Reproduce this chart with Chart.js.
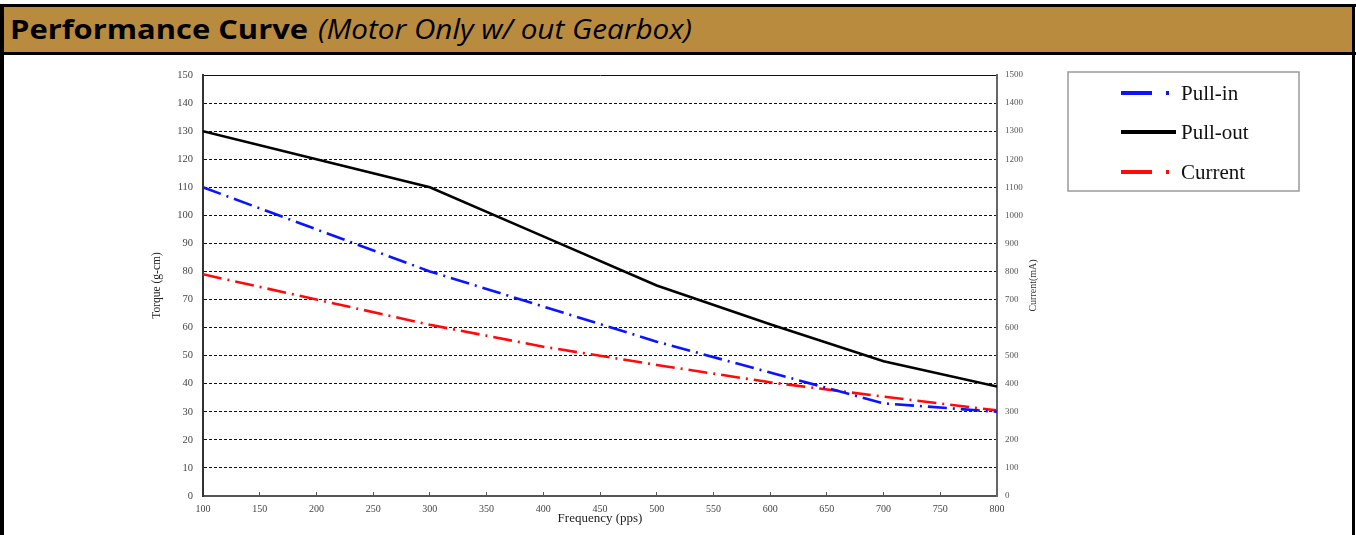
<!DOCTYPE html>
<html><head><meta charset="utf-8">
<script src="https://cdn.jsdelivr.net/npm/chart.js@4.4.0/dist/chart.umd.min.js"></script>
<style>
html,body{margin:0;padding:0;background:#fff;}
#wrap{position:relative;width:1356px;height:535px;overflow:hidden;background:#fff;}
#cv{position:absolute;left:0;top:0;width:1356px;height:535px;z-index:0;}
.blk{position:absolute;background:#000;z-index:2;}
#hdrIn{position:absolute;left:4px;top:7px;width:1348px;height:45px;background:#B98B3E;z-index:3;}
.tt{position:absolute;top:14.5px;font-family:"Open Sans",sans-serif;font-size:27.5px;line-height:27px;color:#000;white-space:nowrap;transform-origin:0 0;z-index:4;}
#t1{left:10px;font-weight:700;}
#t2{left:318px;font-style:italic;font-weight:400;}
</style></head>
<body>
<div id="wrap">
  <canvas id="cv" width="1356" height="535"></canvas>
  <div class="blk" style="left:0;top:4px;width:1356px;height:3px;"></div>
  <div class="blk" style="left:0;top:52px;width:1356px;height:3px;"></div>
  <div class="blk" style="left:0;top:4px;width:4px;height:531px;"></div>
  <div class="blk" style="left:1352px;top:4px;width:3px;height:531px;"></div>
  <div id="hdrIn"></div>
  <span class="tt" id="t1">Performance Curve</span>
  <span class="tt" id="t2">(Motor Only w/ out Gearbox)</span>
</div>
<script>
// ---- data ----
const freq = [100, 200, 300, 400, 500, 600, 700, 800];
const pullIn = [110, 95, 80, 67.5, 55, 44, 33, 30];
const pullOut = [130, 120, 110, 92.5, 75, 61.2, 48, 39];
const current = [790, 700, 610, 532, 467, 405, 354, 305];
const seriesNames = ['Pull-in', 'Pull-out', 'Current'];
const xTitle = 'Frequency (pps)';
const yTitle = 'Torque (g-cm)';
const y1Title = 'Current(mA)';
const freqRange = [100, 800, 50];
const torqueRange = [0, 150, 10];
const currentRange = [0, 1500, 100];

// fit header text widths
function fit(id, w){ const e=document.getElementById(id); const r=e.getBoundingClientRect().width; e.style.transform='scaleX('+(w/r)+')'; }
fit('t1', 298); fit('t2', 374);

const pts = arr => freq.map((f, i) => ({x: f, y: arr[i]}));
const serif = '"Liberation Serif", "Times New Roman", serif';
const plain = {useGrouping: false};

const legendPlugin = {
  id: 'boxLegend',
  afterDraw(chart) {
    const ctx = chart.ctx;
    ctx.save();
    ctx.strokeStyle = '#9a9a9a'; ctx.lineWidth = 1.5;
    ctx.strokeRect(1068, 72, 231, 119);
    const rows = [93, 132, 172];
    chart.data.datasets.forEach((ds, i) => {
      const y = rows[i];
      ctx.beginPath(); ctx.lineWidth = 4; ctx.strokeStyle = ds.borderColor;
      ctx.setLineDash(ds.legendDash || []);
      ctx.moveTo(1121, y); ctx.lineTo(1176, y); ctx.stroke();
      ctx.setLineDash([]);
      ctx.fillStyle = '#111'; ctx.font = '21px ' + serif; ctx.textBaseline = 'middle'; ctx.textAlign = 'left';
      ctx.fillText(ds.label, 1181, y + 1);
    });
    const ca = chart.chartArea;
    ctx.translate(1033, (ca.top + ca.bottom) / 2);
    ctx.rotate(-Math.PI / 2);
    ctx.font = '10px ' + serif; ctx.textAlign = 'center'; ctx.textBaseline = 'middle'; ctx.fillStyle = '#333';
    ctx.fillText(y1Title, 0, 0);
    ctx.restore();
  }
};

new Chart(document.getElementById('cv'), {
  type: 'line',
  data: {
    datasets: [
      {label: seriesNames[0], data: pts(pullIn), yAxisID: 'y', borderColor: '#0a14ff', borderWidth: 2.6,
       borderDash: [19, 6, 2, 6], legendDash: [31, 14, 3, 100], pointRadius: 0, tension: 0, fill: false},
      {label: seriesNames[1], data: pts(pullOut), yAxisID: 'y', borderColor: '#000000', borderWidth: 2.5,
       pointRadius: 0, tension: 0, fill: false},
      {label: seriesNames[2], data: pts(current), yAxisID: 'y1', borderColor: '#ff0a0a', borderWidth: 2.6,
       borderDash: [19, 6, 2, 6], legendDash: [31, 14, 3, 100], pointRadius: 0, tension: 0, fill: false}
    ]
  },
  options: {
    responsive: false, animation: false, devicePixelRatio: 1,
    layout: {padding: {top: 75, left: 0, right: 0, bottom: 0}},
    plugins: {legend: {display: false}, tooltip: {enabled: false}, title: {display: false}},
    scales: {
      x: {
        type: 'linear', position: 'bottom', min: freqRange[0], max: freqRange[1],
        ticks: {stepSize: freqRange[2], format: plain, font: {family: serif, size: 10}, color: '#444', padding: 11, maxRotation: 0},
        grid: {display: true, drawOnChartArea: false, drawTicks: true, tickLength: -4, tickColor: '#555', tickWidth: 1},
        border: {display: true, color: '#555', width: 2},
        title: {display: true, text: xTitle, font: {family: serif, size: 13}, color: '#222', padding: {top: 0, bottom: 9}},
        afterFit: s => { s.height = 39; }
      },
      y: {
        type: 'linear', position: 'left', min: torqueRange[0], max: torqueRange[1],
        ticks: {stepSize: torqueRange[2], format: plain, font: {family: serif, size: 10.5}, color: '#444', padding: 10},
        grid: {color: '#111', lineWidth: 1, drawTicks: false},
        border: {display: true, color: '#333', width: 2, dash: c => (c.tick && c.tick.value === torqueRange[1]) ? [] : [3, 2]},
        title: {display: true, text: yTitle, font: {family: serif, size: 11.5}, color: '#222', padding: {top: 150, bottom: 0}},
        afterFit: s => { s.width = 203; }
      },
      y1: {
        type: 'linear', position: 'right', min: currentRange[0], max: currentRange[1],
        ticks: {stepSize: currentRange[2], format: plain, font: {family: serif, size: 9}, color: '#555', padding: 8},
        grid: {display: false, drawTicks: false},
        border: {display: true, color: '#666', width: 2},
        title: {display: false},
        afterFit: s => { s.width = 359; }
      }
    }
  },
  plugins: [legendPlugin]
});
</script>
</body></html>
